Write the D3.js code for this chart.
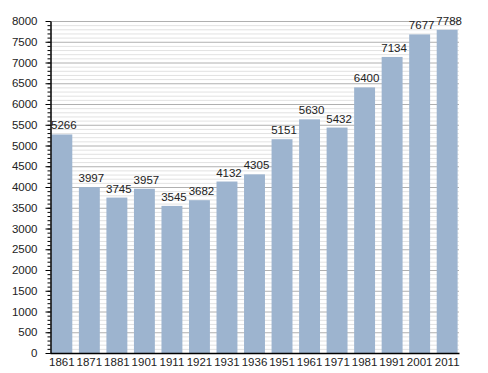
<!DOCTYPE html>
<html>
<head>
<meta charset="utf-8">
<script src="https://cdn.jsdelivr.net/npm/d3@7"></script>
<style>
    body { margin: 0; background: #fff; }
    text { font-family: "Liberation Sans", Arial, sans-serif; fill: #222; }
</style>
</head>
<body>
<div id="chart"></div>
<script>
// Years and population values
const years = ["1861", "1871", "1881", "1901", "1911", "1921", "1931", "1936",
               "1951", "1961", "1971", "1981", "1991", "2001", "2011"];
const population = [5266, 3997, 3745, 3957, 3545, 3682, 4132, 4305,
                    5151, 5630, 5432, 6400, 7134, 7677, 7788];
const yMajorTicks = [0, 500, 1000, 1500, 2000, 2500, 3000, 3500, 4000,
                     4500, 5000, 5500, 6000, 6500, 7000, 7500, 8000];

// SVG dimensions and margins
const margin = { top: 21, right: 29, bottom: 20, left: 50 },
      width = 488 - margin.left - margin.right,
      height = 373 - margin.top - margin.bottom;

const svg = d3.select("#chart")
    .append("svg")
    .attr("width", 488)
    .attr("height", 373)
    .append("g")
    .attr("transform", `translate(${margin.left},${margin.top})`);

const data = years.map((y, i) => ({ year: y, value: population[i] }));

const x = d3.scaleBand()
    .domain(years)
    .range([0, width])
    .paddingInner(0.24)
    .paddingOuter(0.05);

const y = d3.scaleLinear()
    .domain([0, 8000])
    .range([height, 0]);

// Minor gridlines every 100
svg.append("g")
    .selectAll("line")
    .data(d3.range(0, 8001, 100).filter(v => v % 500 !== 0))
    .join("line")
    .attr("x1", 0)
    .attr("x2", width)
    .attr("y1", d => y(d) + 0.5)
    .attr("y2", d => y(d) + 0.5)
    .attr("stroke", "#e2e2e2");

// Major gridlines every 500
svg.append("g")
    .selectAll("line")
    .data(yMajorTicks.filter(v => v > 0))
    .join("line")
    .attr("x1", 0)
    .attr("x2", width)
    .attr("y1", d => y(d) + 0.5)
    .attr("y2", d => y(d) + 0.5)
    .attr("stroke", "#b0b0b0");

// Bars
svg.selectAll(".bar")
    .data(data)
    .join("rect")
    .attr("class", "bar")
    .attr("x", d => x(d.year))
    .attr("y", d => y(d.value))
    .attr("width", x.bandwidth())
    .attr("height", d => height - y(d.value))
    .attr("fill", "#9db4cf");

// Value labels
svg.selectAll(".label")
    .data(data)
    .join("text")
    .attr("class", "label")
    .attr("x", d => x(d.year) + x.bandwidth() / 2 + 2)
    .attr("y", d => y(d.value) - 5)
    .attr("text-anchor", "middle")
    .style("font-size", "11.5px")
    .text(d => d.value);

// Y axis: minor ticks then major ticks with labels
const yMinor = svg.append("g")
    .attr("transform", "translate(0.5,0)")
    .call(d3.axisLeft(y).tickValues(d3.range(0, 8001, 100)).tickSize(3).tickFormat(""));
yMinor.select(".domain").remove();
yMinor.selectAll("line").attr("stroke", "#000");

const yAxis = svg.append("g")
    .attr("transform", "translate(0.5,0)")
    .call(d3.axisLeft(y).tickValues(yMajorTicks).tickSize(5).tickPadding(8)
        .tickSizeOuter(0).tickFormat(d3.format("d")));
yAxis.selectAll("text").style("font-size", "11.5px").attr("fill", "#222");
yAxis.select(".domain").attr("stroke", "#000").attr("stroke-width", 1.5);

// X axis
const xAxis = svg.append("g")
    .attr("transform", `translate(0,${height})`)
    .call(d3.axisBottom(x).tickSize(0).tickPadding(5).tickSizeOuter(0));
xAxis.selectAll("text").style("font-size", "11.5px").attr("fill", "#222");
xAxis.select(".domain").attr("stroke", "#000").attr("stroke-width", 1.5);
</script>
</body>
</html>
